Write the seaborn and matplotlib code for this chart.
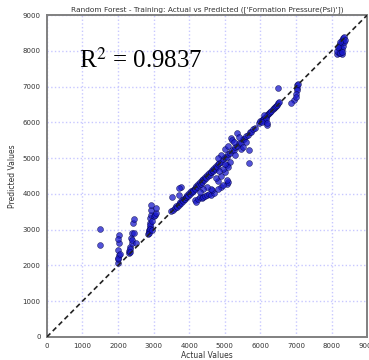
import matplotlib
matplotlib.use("Agg")
import matplotlib.pyplot as plt
import seaborn as sns
import pandas as pd

# --- data (Actual, Predicted) ---
actual_low = [1500, 1500, 2000, 2010, 2020, 2000, 2030, 2040, 2010, 2000, 2050,
              2300, 2320, 2350, 2380, 2360, 2400, 2420, 2450, 2330, 2400, 2450, 2500, 2350,
              2850, 2870, 2880, 2890, 2900, 2900, 2920, 2930, 2940, 2860, 2900, 2950, 3000,
              3050, 3080, 3080, 2910, 2950, 3530, 3780, 3720, 3720]
pred_low = [3010, 2570, 2080, 2180, 2290, 2430, 2620, 2850, 2740, 2200, 2330,
            2340, 2400, 2510, 2640, 2760, 2900, 3180, 3290, 2470, 2700, 2900, 2620, 2380,
            2880, 2950, 3000, 3070, 3180, 3320, 3410, 3550, 3690, 2920, 3120, 3250, 3380,
            3400, 3480, 3620, 3010, 2990, 3910, 4190, 3960, 4160]

actual_band = [3500, 3550, 3600, 3620, 3650, 3700, 3720, 3750, 3780, 3800, 3820, 3850,
               3870, 3900, 3920, 3950, 3970, 4000, 4020, 4050, 4070, 4100, 4120, 4150,
               4170, 4200, 4220, 4250, 4270, 4300, 4320, 4350, 4370, 4400, 4420, 4450,
               4470, 4500, 4520, 4550, 4570, 4600, 4620, 4650, 4670, 4700, 4720, 4750,
               4780, 4800, 4850, 4900, 4950, 5000, 5050, 5100, 5150, 5200, 5250, 5300,
               5350, 5400, 5450, 5500, 5550, 5600, 5650, 5700, 5750, 5800, 5850]
pred_band = [3520, 3560, 3610, 3660, 3640, 3720, 3700, 3780, 3760, 3830, 3800, 3870,
             3850, 3920, 3900, 3980, 3940, 4020, 3990, 4080, 4040, 4120, 4090, 4170,
             4150, 4230, 4190, 4270, 4240, 4330, 4290, 4380, 4340, 4420, 4390, 4480,
             4440, 4520, 4490, 4580, 4540, 4620, 4600, 4680, 4640, 4720, 4690, 4780,
             4760, 4830, 4870, 4880, 4980, 5020, 5030, 5120, 5140, 5230, 5220, 5320,
             5340, 5420, 5430, 5530, 5540, 5620, 5640, 5720, 5730, 5820, 5840]

actual_branch = [4150, 4200, 4250, 4300, 4350, 4400, 4450, 4500, 4550, 4620, 4700,
                 4650, 4600, 4500, 4400, 4300, 5070, 4900, 4800, 4750, 4900, 5000,
                 4800, 4950, 5100, 5050]
pred_branch = [3830, 3780, 3850, 3900, 3880, 3920, 3950, 3980, 4000, 3970, 4020,
               4100, 4150, 4200, 4150, 4050, 4270, 4200, 4350, 4450, 4500, 4600,
               4150, 4250, 4330, 4400]

actual_mid = [4900, 5000, 5100, 5180, 5350, 5210, 5050, 5150, 5300, 5450, 5500,
              5690, 5690, 5600, 4950, 5100, 5250, 5400, 4800, 4850, 5000]
pred_mid = [5100, 5250, 5350, 5560, 5700, 5500, 4800, 4900, 5100, 5250, 5300,
            5220, 4870, 5450, 4700, 4750, 5450, 5600, 5000, 4650, 4850]

actual_high = [5950, 6000, 6050, 6080, 6100, 6150, 6180, 6200, 6250, 6280, 6300,
               6350, 6380, 6400, 6450, 6480, 6500, 6530, 6100, 6150, 6050, 6190,
               6110, 6190,
               7030, 7030, 7020, 7000, 6950, 6860, 7050, 6500, 7000,
               8150, 8200, 8200, 8250, 8250, 8300, 8300, 8330, 8350, 8200, 8150,
               8280, 8300, 8320, 8350, 8250, 8380, 8230, 8180, 8300]
pred_high = [5980, 6030, 6060, 6100, 6120, 6160, 6200, 6230, 6270, 6300, 6320,
             6370, 6400, 6420, 6470, 6500, 6540, 6560, 6050, 6100, 6000, 5920,
             6200, 5980,
             7040, 6950, 6900, 6800, 6620, 6540, 7080, 6960, 6700,
             7900, 7950, 8050, 8100, 8200, 8250, 8300, 8350, 8380, 8150, 8000,
             7900, 8050, 8150, 8250, 7950, 8300, 8250, 8100, 7980]

actual = actual_low + actual_band + actual_branch + actual_mid + actual_high
predicted = pred_low + pred_band + pred_branch + pred_mid + pred_high

ticks = [0, 1000, 2000, 3000, 4000, 5000, 6000, 7000, 8000, 9000]
r2_text = "R$^2$ = 0.9837"
title = "Random Forest - Training: Actual vs Predicted (['Formation Pressure(Psi)'])"

df = pd.DataFrame({"Actual Values": actual, "Predicted Values": predicted})

sns.set_style("white")
fig = plt.figure(figsize=(3.69, 3.60), dpi=100)
ax = fig.add_axes([0.127, 0.064, 0.868, 0.894])

ax.grid(True, color="#c8c8ff", linestyle=":", linewidth=1.0)
ax.set_axisbelow(True)

sns.scatterplot(data=df, x="Actual Values", y="Predicted Values", ax=ax,
                color="#1a1acc", alpha=0.75, s=18, edgecolor="#000040",
                linewidth=0.4, zorder=3)
ax.plot([0, 9000], [0, 9000], linestyle="--", color="#222222", linewidth=1.2,
        dashes=(3, 2), zorder=4)

ax.set_xlim(0, 9000)
ax.set_ylim(0, 9000)
ax.set_xticks(ticks)
ax.set_yticks(ticks)
ax.tick_params(axis="both", labelsize=5, colors="#333333", length=3, width=0.8,
               direction="out", pad=1.5)
for s in ax.spines.values():
    s.set_color("#808080")
    s.set_linewidth(1.4)

ax.set_xlabel("Actual Values", fontsize=5.5, color="#333333", labelpad=1)
ax.set_ylabel("Predicted Values", fontsize=5.5, color="#333333", labelpad=4)
ax.set_title(title, fontsize=5.3, color="#333333", pad=3)

ax.text(0.1, 0.835, r2_text, transform=ax.transAxes, fontsize=18,
        family="Liberation Serif", color="black",
        math_fontfamily="stix")

fig.savefig("out.png", dpi=100)
